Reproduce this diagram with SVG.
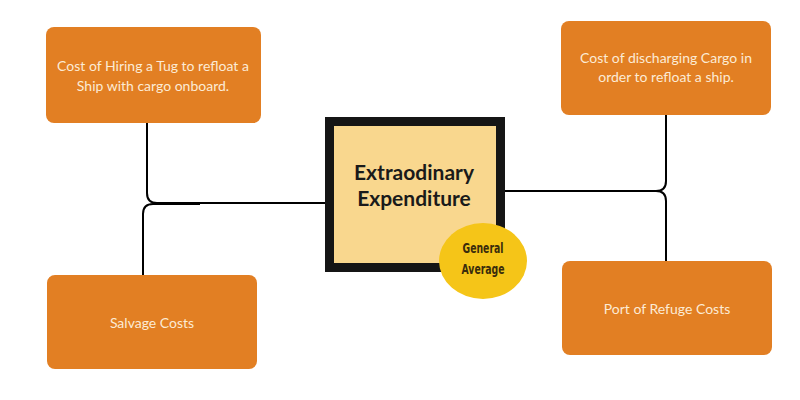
<svg xmlns="http://www.w3.org/2000/svg" width="800" height="400" viewBox="0 0 800 400">
<style>
.box{fill:#E27F23;}
.lbl{font-family:Lato,"Liberation Sans",sans-serif;font-size:14px;fill:#FCEBD5;text-anchor:middle;}
.conn{fill:none;stroke:#000;stroke-width:2;}
.ga{font-family:"DejaVu Sans Condensed","Liberation Sans",sans-serif;font-size:14px;font-weight:bold;fill:#3a2c0c;text-anchor:middle;}
</style>
<rect width="800" height="400" fill="#fff"/>
<g id="connectors">
<path class="conn" d="M147,123 V193 Q147,203 157,203 H326"/>
<path class="conn" d="M143,275 V214 Q143,204 153,204 H200"/>
<path class="conn" d="M504,191 H656 Q666,191 666,181 V114"/>
<path class="conn" d="M630,191 H656 Q666,191 666,201 V261"/>
</g>
<g id="node-tug">
<rect class="box" x="46" y="27" width="215" height="96" rx="8"/>
<text class="lbl" x="153" y="71">Cost of Hiring a Tug to refloat a</text>
<text class="lbl" x="153" y="91">Ship with cargo onboard.</text>
</g>
<g id="node-discharge">
<rect class="box" x="561" y="21" width="210" height="94" rx="8"/>
<text class="lbl" x="666" y="63">Cost of discharging Cargo in</text>
<text class="lbl" x="666" y="82">order to refloat a ship.</text>
</g>
<g id="node-salvage">
<rect class="box" x="47" y="275" width="210" height="94" rx="8"/>
<text class="lbl" x="152" y="328">Salvage Costs</text>
</g>
<g id="node-port">
<rect class="box" x="562" y="261" width="210" height="94" rx="8"/>
<text class="lbl" x="667" y="314">Port of Refuge Costs</text>
</g>
<g id="node-center">
<rect x="329.5" y="121.5" width="171" height="146" fill="#F9D78E" stroke="#151515" stroke-width="9"/>
<text x="414" y="180" font-family="Lato,'Liberation Sans',sans-serif" font-size="21" font-weight="bold" fill="#1a1a1a" text-anchor="middle">Extraodinary</text>
<text x="414" y="206" font-family="Lato,'Liberation Sans',sans-serif" font-size="21" font-weight="bold" fill="#1a1a1a" text-anchor="middle">Expenditure</text>
</g>
<g id="node-ga">
<ellipse cx="483" cy="261" rx="44" ry="38" fill="#F5C518"/>
<text class="ga" x="483" y="253" textLength="41" lengthAdjust="spacingAndGlyphs">General</text>
<text class="ga" x="483" y="274" textLength="43" lengthAdjust="spacingAndGlyphs">Average</text>
</g>
</svg>
